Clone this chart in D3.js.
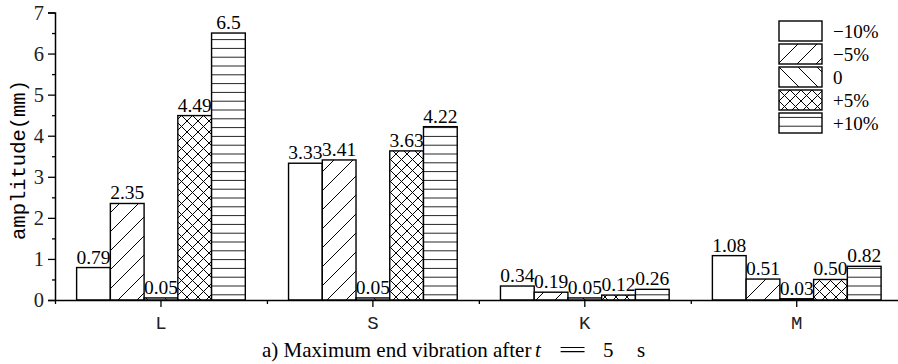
<!DOCTYPE html>
<html>
<head>
<meta charset="utf-8">
<script src="https://cdn.jsdelivr.net/npm/d3@7"></script>
<style>
  body { margin: 0; background: #fff; }
  svg { display: block; }
</style>
</head>
<body>
<script>
// data
var categories = ["L", "S", "K", "M"];
var seriesNames = ["\u221210%", "\u22125%", "0", "+5%", "+10%"];
var minus10 = [0.79, 3.33, 0.34, 1.08];
var minus5 = [2.35, 3.41, 0.19, 0.51];
var zero = [0.05, 0.05, 0.05, 0.03];
var plus5 = [4.49, 3.63, 0.12, 0.50];
var plus10 = [6.5, 4.22, 0.26, 0.82];
var minus10Labels = ["0.79", "3.33", "0.34", "1.08"];
var minus5Labels = ["2.35", "3.41", "0.19", "0.51"];
var zeroLabels = ["0.05", "0.05", "0.05", "0.03"];
var plus5Labels = ["4.49", "3.63", "0.12", "0.50"];
var plus10Labels = ["6.5", "4.22", "0.26", "0.82"];
var yTicks = [0, 1, 2, 3, 4, 5, 6, 7];

var seriesValues = [minus10, minus5, zero, plus5, plus10];
var seriesLabels = [minus10Labels, minus5Labels, zeroLabels, plus5Labels, plus10Labels];
var patternIds = ["pNone", "pFwd", "pBack", "pCross", "pHoriz"];

var W = 898, H = 364;
var serif = "'Liberation Serif', serif";
var mono = "'Liberation Mono', monospace";

var svg = d3.select("body").append("svg")
  .attr("width", W)
  .attr("height", H);

// patterns
var defs = svg.append("defs");
function pattern(id, size) {
  var p = defs.append("pattern")
    .attr("id", id)
    .attr("patternUnits", "userSpaceOnUse")
    .attr("width", size)
    .attr("height", size);
  p.append("rect").attr("width", size).attr("height", size).attr("fill", "#fff");
  return p;
}
pattern("pNone", 10);
var pf = pattern("pFwd", 19);
pf.append("path").attr("d", "M0,19 L19,0 M-2,2 L2,-2 M17,21 L21,17")
  .attr("stroke", "#000").attr("stroke-width", 1);
var pb = pattern("pBack", 19);
pb.append("path").attr("d", "M0,0 L19,19 M-2,17 L2,21 M17,-2 L21,2")
  .attr("stroke", "#000").attr("stroke-width", 1);
var pc = pattern("pCross", 11);
pc.append("path").attr("d", "M0,0 L11,11 M0,11 L11,0")
  .attr("stroke", "#000").attr("stroke-width", 1);
var ph = pattern("pHoriz", 8.8);
ph.append("path").attr("d", "M0,4.4 L8.8,4.4")
  .attr("stroke", "#222").attr("stroke-width", 1);

// scales
var x0 = d3.scaleBand().domain(categories).range([55, 902.7]).padding(0);
var bw = x0.bandwidth();
var x1 = d3.scaleBand().domain(d3.range(seriesNames.length))
  .range([bw * 0.102, bw * 0.898]).padding(0);
var y = d3.scaleLinear().domain([0, 7]).range([300, 12.5]);

// bars and value labels, series by series
seriesValues.forEach(function(vals, s) {
  var g = svg.append("g");
  g.selectAll("rect")
    .data(vals)
    .enter()
    .append("rect")
      .attr("x", function(d, i) { return x0(categories[i]) + x1(s); })
      .attr("y", function(d) { return y(d); })
      .attr("width", x1.bandwidth())
      .attr("height", function(d) { return y(0) - y(d); })
      .attr("fill", "url(#" + patternIds[s] + ")")
      .attr("stroke", "#000")
      .attr("stroke-width", 1.4);
  g.selectAll("text")
    .data(vals)
    .enter()
    .append("text")
      .attr("x", function(d, i) { return x0(categories[i]) + x1(s) + x1.bandwidth() / 2; })
      .attr("y", function(d) { return y(d) - 4; })
      .attr("text-anchor", "middle")
      .style("font-family", serif)
      .style("font-size", "19.5px")
      .text(function(d, i) { return seriesLabels[s][i]; });
});

// y axis
var yAxis = svg.append("g")
  .attr("transform", "translate(55,0)")
  .call(d3.axisLeft(y).tickValues(yTicks).tickSize(7).tickPadding(4).tickFormat(d3.format("d")));
svg.append("g")
  .attr("transform", "translate(55,0)")
  .call(d3.axisLeft(y).tickValues(d3.range(0.5, 7, 1)).tickSize(3).tickFormat(""))
  .select(".domain").remove();
yAxis.selectAll("text")
  .style("font-family", serif)
  .style("font-size", "20.5px")
  .attr("fill", "#222");

// x axis
var xAxis = svg.append("g")
  .attr("transform", "translate(0,300)")
  .call(d3.axisBottom(x0).tickSize(7).tickPadding(9).tickSizeOuter(0));
svg.append("g")
  .attr("transform", "translate(0,300)")
  .call(d3.axisBottom(d3.scaleLinear().domain([0, 4]).range([55, 55 + 4 * bw]))
    .tickValues([0, 1, 2, 3]).tickSize(4).tickFormat(""))
  .select(".domain").remove();
xAxis.selectAll("text")
  .style("font-family", mono)
  .style("font-size", "19px")
  .attr("fill", "#222");

svg.selectAll(".domain").attr("stroke-width", 1.5);
svg.selectAll(".tick line").attr("stroke-width", 1.3);

// y label
svg.append("text")
  .attr("transform", "translate(25,160) rotate(-90)")
  .attr("text-anchor", "middle")
  .style("font-family", mono)
  .style("font-size", "20.5px")
  .text("amplitude(mm)");

// title
var title = svg.append("text")
  .attr("x", 262)
  .attr("y", 357)
  .style("font-family", serif)
  .style("font-size", "21px");
title.append("tspan").text("a) Maximum end vibration after");
title.append("tspan").attr("x", 535).style("font-style", "italic").text("t");
title.append("tspan").attr("x", 558)
  .attr("textLength", 29).attr("lengthAdjust", "spacingAndGlyphs").text("=");
title.append("tspan").attr("x", 603).text("5");
title.append("tspan").attr("x", 637).text("s");

// legend
var legend = svg.append("g").attr("transform", "translate(779,21)");
var item = legend.selectAll("g")
  .data(seriesNames)
  .enter()
  .append("g")
    .attr("transform", function(d, i) { return "translate(0," + i * 23 + ")"; });
item.append("rect")
  .attr("width", 43)
  .attr("height", 20)
  .attr("fill", function(d, i) { return "url(#" + patternIds[i] + ")"; })
  .attr("stroke", "#000")
  .attr("stroke-width", 1.4);
item.append("text")
  .attr("x", 54)
  .attr("y", 17)
  .style("font-family", serif)
  .style("font-size", "19px")
  .text(function(d) { return d; });
</script>
</body>
</html>
